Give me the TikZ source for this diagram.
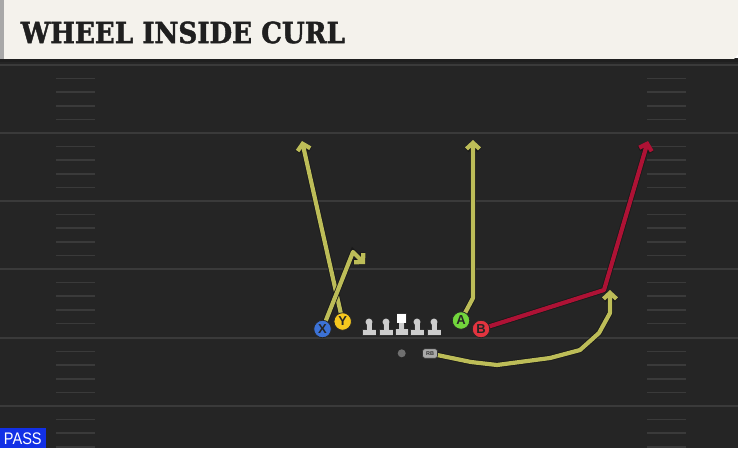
\documentclass[tikz,border=0pt]{standalone}
\usepackage{fontspec}
\usetikzlibrary{arrows.meta}
\newfontfamily\titlefont{DejaVu Serif}[UprightFont=* Bold, FakeBold=1.6]
\newfontfamily\labelfont{Liberation Sans}
\definecolor{fieldbg}{HTML}{252525}
\definecolor{yardline}{HTML}{3A3A3A}
\definecolor{headerbg}{HTML}{F4F2EC}
\definecolor{headeredge}{HTML}{A8A8A8}
\definecolor{passblue}{HTML}{1230E6}
\definecolor{routeyellow}{HTML}{BDBD58}
\definecolor{routered}{HTML}{AE1235}
\definecolor{xblue}{HTML}{3C72D6}
\definecolor{yyellow}{HTML}{F6C81E}
\definecolor{agreen}{HTML}{72D63C}
\definecolor{bred}{HTML}{E2343F}
\definecolor{lmgray}{HTML}{CDCDCD}
\definecolor{rbgray}{HTML}{A9A9A9}
\definecolor{qbgray}{HTML}{707070}
\pgfdeclarelayer{field}
\pgfdeclarelayer{routes}
\pgfsetlayers{field,routes,main}
\tikzset{
  yard/.style={draw=yardline, line width=2pt},
  hashmark/.style={draw=yardline, line width=1.6pt},
  route/.style={line width=4.2pt, line join=round, line cap=butt,
    -{Straight Barb[length=6pt,width=13pt]},
    preaction={draw=black!90, line width=5.8pt, -{Straight Barb[length=6pt,width=13pt]}}},
  yroute/.style={route, draw=routeyellow},
  rroute/.style={route, draw=routered},
  player/.style={circle, draw=black!85, line width=0.8pt, minimum size=17.5pt,
    inner sep=0pt, font=\labelfont\bfseries\fontsize{13}{13}\selectfont, text=black!85},
  lmout/.style={draw=black!80, line width=1.3pt, line join=round},
  lmfill/.style={fill=lmgray},
}
\begin{document}
\begin{tikzpicture}[x=1pt,y=-1pt]
\useasboundingbox (0,0) rectangle (738,448);
\begin{pgfonlayer}{field}
  \fill[fieldbg] (0,58) rectangle (738,448);
  \foreach \b in {65,133,201,269,338,406} {
    \draw[yard] (0,\b) -- (738,\b);
  }
  \foreach \b in {65,133,201,269,338,406} {
    \foreach \k in {1,...,4} {
      \draw[hashmark] (56,{\b+13.6*\k}) -- (95,{\b+13.6*\k});
      \draw[hashmark] (647,{\b+13.6*\k}) -- (686,{\b+13.6*\k});
    }
  }
  \fill[headerbg] (0,0) -- (738,0) -- (738,54) -- (734,59) -- (0,59) -- cycle;
  \fill[headeredge] (0,0) rectangle (4,59);
  \fill[black!88] (0,59) rectangle (738,62);
  \fill[passblue] (0,428) rectangle (46,448);
\end{pgfonlayer}
\node[anchor=west, inner sep=0pt, text=black!88] (title) at (20.7,32.5)
  {\resizebox{324pt}{21.6pt}{\titlefont WHEEL INSIDE CURL}};
\node[inner sep=0pt, text=white] (pass) at (22.8,439.2)
  {\resizebox{37.7pt}{11.7pt}{\labelfont PASS}};
% players
\node[player, fill=xblue] (X) at (322.5,329) {X};
\node[player, fill=yyellow] (Y) at (342.7,321.5) {Y};
\node[player, fill=agreen] (A) at (461,320.5) {A};
\node[player, fill=bred] (B) at (481,329) {B};
\node[circle, fill=qbgray, minimum size=8pt, inner sep=0pt] (QB) at (401.7,353.3) {};
\node[rounded corners=2.5pt, fill=rbgray, draw=black!80, line width=0.7pt,
  minimum width=15pt, minimum height=9.5pt, inner sep=0pt,
  font=\labelfont\bfseries\fontsize{5.5}{5.5}\selectfont, text=black!80] (RB) at (430,353.5) {RB};
% linemen
\foreach \x in {369,386,417,434} {
  \draw[lmout] (\x,322) circle (3.4);
  \draw[lmout] (\x-2.5,322) rectangle (\x+2.5,331);
  \draw[lmout] (\x-6.5,330) rectangle (\x+6.5,335);
  \fill[lmfill] (\x,322) circle (3.4);
  \fill[lmfill] (\x-2.5,322) rectangle (\x+2.5,331);
  \fill[lmfill] (\x-6.5,330) rectangle (\x+6.5,335);
}
\draw[lmout] (397.3,314) rectangle (406.3,322.7);
\draw[lmout] (399.3,322) rectangle (404.3,330);
\draw[lmout] (395.8,329.3) rectangle (408.3,334.5);
\fill[white] (397.3,314) rectangle (406.3,322.7);
\fill[lmfill] (399.3,322.7) rectangle (404.3,330);
\fill[lmfill] (395.8,329.3) rectangle (408.3,334.5);
% routes
\begin{pgfonlayer}{routes}
  \draw[yroute] (Y.center) -- (302,141);
  \draw[yroute] (X.center) -- (353,252) -- (365,264);
  \draw[yroute] (A.center) -- (473,298) -- (473,140);
  \draw[rroute] (B.center) -- (604,290) -- (648,141);
  \draw[yroute] (RB.center) -- (471,362) -- (497,365) -- (550,358) -- (580,350)
    -- (599,333) -- (610,313) -- (610,290);
\end{pgfonlayer}
\end{tikzpicture}
\end{document}
